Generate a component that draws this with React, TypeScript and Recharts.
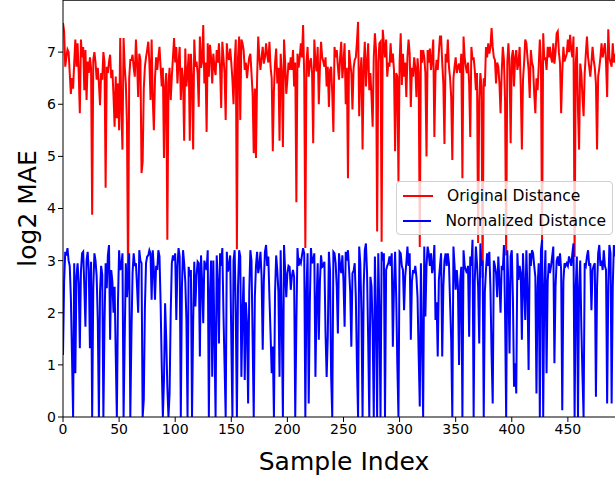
import { Line, LineChart, ReferenceLine, XAxis, YAxis } from 'recharts';

// log2 MAE per sample
const originalDistance = [
  7.56, 7.4, 6.72, 6.9, 7.05, 7.0, 6.6, 6.2, 6.5, 6.3,
  6.8, 7.24, 6.72, 7.17, 6.6, 5.83, 7.24, 6.9, 7.1, 6.27,
  7.04, 6.08, 6.82, 6.6, 6.9, 6.7, 3.88, 6.85, 7.0, 6.8,
  6.47, 6.7, 6.4, 5.98, 6.6, 6.47, 7.0, 6.8, 4.4, 6.72,
  6.6, 6.82, 6.95, 6.5, 6.66, 6.17, 5.57, 6.53, 5.73, 6.4,
  5.5, 7.27, 5.9, 5.13, 7.27, 6.72, 6.4, 5.63, 2.63, 6.5,
  6.85, 6.85, 6.95, 6.7, 6.53, 7.24, 6.8, 6.14, 6.97, 6.85,
  4.68, 4.9, 6.3, 6.72, 6.9, 7.04, 7.2, 6.8, 6.08, 7.24,
  6.1, 5.5, 6.5, 6.9, 6.66, 6.9, 7.1, 6.72, 6.34, 6.7,
  4.97, 6.34, 6.6, 3.4, 6.4, 6.7, 6.08, 6.53, 6.9, 7.27,
  6.8, 7.1, 6.4, 6.8, 7.1, 6.08, 6.7, 6.5, 5.3, 7.07,
  6.34, 6.6, 6.97, 5.3, 6.97, 6.5, 5.13, 7.24, 6.72, 6.82,
  6.6, 5.95, 7.3, 6.7, 6.82, 7.52, 6.4, 6.8, 5.47, 7.17,
  6.53, 7.14, 6.9, 6.4, 6.97, 6.7, 6.56, 7.04, 6.8, 7.17,
  6.7, 5.93, 7.2, 6.9, 6.6, 5.7, 7.17, 6.9, 6.85, 7.07,
  6.8, 6.47, 6.0, 6.8, 7.24, 3.22, 6.9, 7.3, 5.7, 7.24,
  7.17, 7.04, 6.66, 6.8, 6.5, 6.72, 6.9, 6.97, 6.6, 6.2,
  5.06, 6.3, 4.97, 6.5, 7.3, 6.9, 6.66, 6.9, 7.1, 6.78,
  6.9, 7.17, 6.95, 6.8, 7.2, 6.72, 6.5, 5.1, 6.27, 6.8,
  7.07, 6.4, 6.7, 5.3, 6.97, 6.6, 5.18, 7.24, 6.8, 6.2,
  6.47, 6.8, 6.66, 6.9, 6.66, 7.04, 6.34, 6.8, 4.12, 6.97,
  6.7, 6.9, 7.17, 6.9, 7.52, 6.53, 3.24, 6.8, 7.1, 6.53,
  6.8, 6.88, 6.6, 5.25, 7.24, 6.8, 6.63, 7.1, 6.0, 6.7,
  7.2, 6.9, 6.82, 6.72, 6.9, 6.34, 6.72, 5.95, 6.66, 6.72,
  6.2, 5.47, 7.1, 6.9, 7.04, 6.72, 6.47, 6.9, 7.2, 6.5,
  6.8, 7.17, 6.0, 6.7, 4.58, 7.04, 6.8, 6.6, 5.9, 6.7,
  6.85, 6.9, 7.2, 7.58, 5.77, 6.6, 6.9, 5.13, 6.72, 7.2,
  6.34, 6.8, 7.17, 6.27, 6.6, 6.14, 5.57, 6.9, 7.36, 7.04,
  3.56, 6.8, 7.17, 7.2, 3.36, 7.43, 7.17, 6.9, 7.24, 6.53,
  6.8, 6.72, 7.17, 6.8, 6.97, 6.66, 5.1, 6.6, 6.53, 4.52,
  6.8, 7.36, 6.37, 6.97, 6.53, 6.8, 6.14, 6.9, 7.24, 6.97,
  5.95, 6.7, 6.53, 6.9, 6.7, 6.14, 6.88, 6.6, 3.26, 7.04,
  6.8, 7.04, 6.9, 6.6, 5.0, 7.04, 6.8, 7.07, 6.66, 6.9,
  7.24, 5.37, 6.6, 6.85, 6.66, 7.0, 7.3, 7.3, 6.8, 6.4,
  5.24, 6.97, 6.8, 7.24, 6.72, 6.5, 6.14, 4.93, 6.5, 6.72,
  6.9, 6.6, 6.72, 6.78, 6.6, 6.97, 4.58, 7.3, 6.9, 6.72,
  6.6, 6.8, 6.4, 5.37, 7.1, 6.85, 6.9, 6.66, 6.27, 6.6,
  3.34, 6.08, 6.6, 6.34, 2.67, 6.5, 6.34, 7.1, 6.9, 7.17,
  6.97, 7.1, 7.46, 7.1, 6.9, 6.85, 6.4, 6.8, 6.72, 6.4,
  5.83, 6.6, 7.1, 6.85, 6.08, 3.1, 6.8, 7.17, 6.72, 5.25,
  6.9, 7.04, 6.34, 6.9, 7.04, 6.66, 6.8, 7.1, 6.34, 5.13,
  6.47, 6.8, 7.24, 7.17, 6.9, 6.66, 6.12, 7.04, 6.8, 6.72,
  6.2, 5.83, 6.5, 6.27, 6.72, 7.24, 6.8, 3.34, 7.36, 6.85,
  6.9, 6.66, 7.1, 6.9, 7.1, 6.9, 6.8, 7.17, 6.78, 7.0,
  7.36, 7.4, 7.0, 6.78, 5.83, 6.6, 7.1, 6.82, 6.9, 6.97,
  7.24, 7.0, 7.33, 7.04, 6.9, 7.3, 3.07, 6.8, 7.1, 5.9,
  5.13, 6.78, 6.6, 6.14, 5.77, 6.6, 6.97, 7.3, 6.9, 6.72,
  6.53, 6.8, 7.1, 6.85, 6.7, 6.4, 5.13, 6.53, 6.7, 6.9,
  7.17, 6.9, 7.04, 7.17, 6.8, 6.14, 7.44, 6.9, 6.8, 6.72,
  7.17, 6.8, 6.97,
];

const normalizedDistance = [
  1.19, 2.6, 3.17, 3.1, 3.24, 3.0, 2.9, 2.3, 1.2, 0,
  2.95, 0.84, 2.7, 2.95, 2.57, 1.32, 2.8, 3.14, 3.17, 2.5,
  1.73, 3.0, 3.17, 2.82, 1.32, 2.98, 0, 2.5, 3.14, 3.0,
  2.7, 1.86, 0, 2.4, 2.9, 2.73, 0, 1.8, 2.95, 2.47,
  3.1, 3.3, 1.48, 2.82, 2.6, 2.0, 2.5, 1.2, 0, 2.2,
  3.2, 2.82, 2.9, 3.14, 0, 1.5, 2.95, 2.3, 2.7, 3.14,
  0, 1.6, 2.76, 3.14, 2.9, 2.95, 2.5, 2.0, 3.2, 3.0,
  2.95, 0, 0.33, 2.1, 2.95, 3.08, 3.1, 3.2, 3.14, 2.25,
  3.2, 2.82, 2.25, 2.9, 2.82, 3.2, 3.08, 2.18, 1.0, 0,
  0.71, 2.18, 1.5, 0.58, 0, 0.45, 2.0, 2.95, 3.1, 3.0,
  3.14, 1.86, 2.9, 3.24, 3.08, 0, 2.5, 3.2, 2.95, 2.6,
  1.86, 0, 2.88, 2.7, 2.82, 0, 1.8, 2.98, 2.12, 2.7,
  2.98, 2.95, 1.16, 3.1, 2.6, 1.8, 3.0, 2.9, 2.82, 3.2,
  0, 2.4, 3.0, 0.77, 3.0, 1.5, 0, 3.1, 2.6, 1.41,
  3.14, 2.9, 3.24, 2.0, 1.0, 0, 3.17, 2.79, 2.9, 3.1,
  1.5, 0, 3.0, 3.2, 2.0, 0, 2.5, 3.2, 3.08, 0.77,
  2.0, 2.69, 0.71, 2.2, 1.8, 0.26, 2.4, 3.2, 3.0, 1.5,
  0, 2.3, 2.9, 3.17, 2.76, 2.9, 3.17, 2.69, 1.29, 2.6,
  3.17, 3.3, 2.9, 3.08, 2.3, 1.6, 0.84, 1.35, 0, 2.4,
  3.1, 2.82, 2.4, 0.77, 3.2, 1.8, 0, 3.3, 2.8, 2.3,
  2.76, 2.9, 2.88, 2.44, 2.7, 2.82, 2.69, 0, 1.8, 3.24,
  2.9, 3.0, 2.95, 3.1, 3.24, 3.14, 0, 2.4, 3.14, 0.26,
  2.2, 3.24, 2.95, 3.0, 3.14, 0.77, 2.2, 2.95, 1.48, 2.6,
  3.1, 2.88, 2.9, 2.98, 1.6, 0.77, 1.54, 3.17, 2.8, 0.77,
  0, 3.17, 3.14, 2.95, 2.5, 1.6, 3.14, 2.9, 2.76, 3.1,
  2.6, 1.73, 3.17, 3.0, 3.2, 2.82, 2.4, 1.35, 2.76, 2.8,
  2.95, 2.3, 1.0, 0, 3.27, 2.95, 2.0, 0, 2.5, 3.2,
  3.33, 2.76, 1.5, 0, 2.69, 2.5, 1.67, 0, 3.08, 2.0,
  0, 3.14, 2.0, 0, 3.17, 3.0, 3.14, 0, 2.82, 2.9,
  2.95, 3.08, 2.9, 3.14, 1.35, 2.5, 3.17, 2.3, 1.0, 0,
  3.17, 3.14, 2.9, 2.82, 2.05, 2.7, 2.95, 3.27, 2.9, 3.14,
  1.48, 2.6, 2.82, 2.76, 2.9, 2.69, 2.3, 1.2, 0.2, 2.95,
  1.5, 0, 3.27, 1.93, 2.9, 3.27, 3.14, 2.9, 3.14, 2.76,
  2.9, 3.3, 1.86, 2.2, 1.16, 2.63, 2.9, 3.14, 1.16, 2.5,
  3.0, 3.14, 2.9, 3.14, 2.95, 2.2, 1.48, 0, 3.27, 2.9,
  2.44, 2.82, 2.5, 1.0, 2.6, 2.88, 0, 3.2, 2.9, 2.82,
  2.76, 2.9, 1.54, 3.08, 2.9, 3.4, 0, 2.6, 3.27, 2.95,
  2.5, 1.41, 3.33, 2.9, 3.0, 0, 2.4, 2.82, 3.14, 2.9,
  3.17, 2.44, 1.2, 0.26, 3.0, 2.9, 2.76, 2.3, 3.08, 2.6,
  2.0, 2.9, 2.82, 3.3, 2.0, 0, 3.2, 2.5, 1.22, 3.08,
  3.2, 2.3, 0.58, 1.03, 0.45, 3.14, 2.63, 2.9, 2.76, 1.48,
  3.14, 2.5, 1.86, 3.2, 2.4, 0.9, 3.14, 2.9, 3.2, 3.14,
  2.9, 2.69, 0.45, 2.5, 2.95, 0, 3.2, 3.4, 0, 2.5,
  3.2, 0.84, 2.6, 2.95, 2.76, 2.9, 3.08, 3.27, 1.03, 2.5,
  3.0, 3.08, 2.9, 3.14, 2.82, 0.13, 2.6, 2.95, 2.9, 2.95,
  2.9, 3.08, 3.0, 2.9, 3.14, 3.33, 0, 2.5, 3.08, 0,
  2.5, 3.0, 1.73, 0.8, 0, 2.95, 2.9, 3.08, 3.2, 2.9,
  2.95, 2.05, 2.82, 2.9, 2.95, 0.39, 2.5, 3.14, 3.3, 2.9,
  3.0, 2.82, 3.2, 2.9, 2.82, 0.26, 2.5, 3.3, 3.14, 0.26,
  2.5, 3.3, 3.08,
];

const xTicks = [0, 50, 100, 150, 200, 250, 300, 350, 400, 450];
const yTicks = [0, 1, 2, 3, 4, 5, 6, 7];

const SERIES = [
  { key: 'original', name: 'Original Distance', color: '#ff0000' },
  { key: 'normalized', name: 'Normalized Distance', color: '#0000ff' },
];

const FONT = '"DejaVu Sans", sans-serif';

const data = originalDistance.map((v, i) => ({
  i,
  original: v,
  normalized: normalizedDistance[i],
}));

function XLabel({ viewBox }: any) {
  const cx = viewBox.x + viewBox.width / 2 + 5;
  return (
    <text x={cx} y={470} textAnchor="middle" fill="#000" fontSize={25} fontFamily={FONT}>
      Sample Index
    </text>
  );
}

function YLabel({ viewBox }: any) {
  const cy = viewBox.y + viewBox.height / 2;
  return (
    <text
      x={36}
      y={cy}
      transform={`rotate(-90 36 ${cy})`}
      textAnchor="middle"
      fill="#000"
      fontSize={25}
      fontFamily={FONT}
    >
      log2 MAE
    </text>
  );
}

function LegendBox() {
  return (
    <div
      style={{
        position: 'absolute',
        left: 396,
        top: 181,
        width: 203,
        background: 'rgba(255,255,255,0.8)',
        border: '1px solid #d0d0d0',
        borderRadius: 4,
        padding: '1px 6px 1px 6px',
        fontFamily: FONT,
        fontSize: 15.5,
        color: '#000',
      }}
    >
      {SERIES.map((s) => (
        <div key={s.key} style={{ display: 'flex', alignItems: 'center', height: 25, whiteSpace: 'nowrap' }}>
          <span style={{ display: 'inline-block', width: 30, height: 2, background: s.color, marginRight: 14 }} />
          {s.name}
        </div>
      ))}
    </div>
  );
}

export default function App() {
  return (
    <div style={{ position: 'fixed', left: 0, top: 0, width: 615, height: 479, background: '#fff' }}>
      <LineChart width={615} height={479} data={data} margin={{ top: 0, right: 0, left: 0, bottom: 0 }}>
        <XAxis
          dataKey="i"
          type="number"
          domain={[0, 492]}
          ticks={xTicks}
          allowDataOverflow
          height={62}
          tickSize={5}
          stroke="#000"
          tick={{ fill: '#000', fontSize: 14, fontFamily: FONT }}
          label={<XLabel />}
        />
        <YAxis
          domain={[0, 8]}
          ticks={yTicks}
          allowDataOverflow
          width={63}
          tickSize={5}
          stroke="#000"
          tick={{ fill: '#000', fontSize: 14, fontFamily: FONT }}
          label={<YLabel />}
        />
        <ReferenceLine y={8} stroke="#000" strokeWidth={1.5} />
        {SERIES.map((s) => (
          <Line
            key={s.key}
            dataKey={s.key}
            name={s.name}
            stroke={s.color}
            strokeWidth={2}
            dot={false}
            isAnimationActive={false}
          />
        ))}
      </LineChart>
      <LegendBox />
    </div>
  );
}
